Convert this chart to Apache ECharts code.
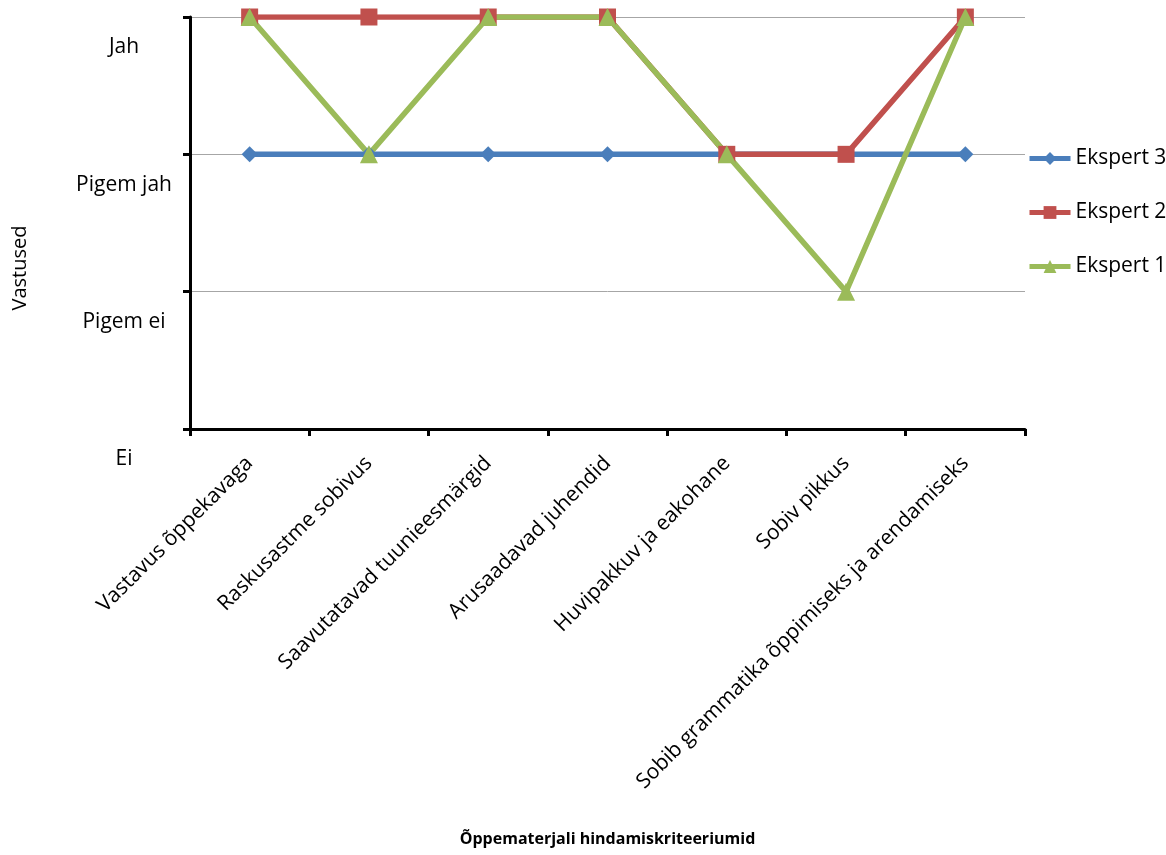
<!DOCTYPE html>
<html>
<head>
<meta charset="utf-8">
<script src="https://cdn.jsdelivr.net/npm/echarts@6/dist/echarts.min.js"></script>
<style>html,body{margin:0;padding:0;background:#fff}#c{width:1166px;height:855px}</style>
</head>
<body>
<div id="c"></div>
<script>
var categories = ['Vastavus õppekavaga', 'Raskusastme sobivus', 'Saavutatavad tuunieesmärgid', 'Arusaadavad juhendid', 'Huvipakkuv ja eakohane', 'Sobiv pikkus', 'Sobib grammatika õppimiseks ja arendamiseks'];
var yLabels = ['Ei', 'Pigem ei', 'Pigem jah', 'Jah'];
var ekspert3 = [2, 2, 2, 2, 2, 2, 2];
var ekspert2 = [3, 3, 3, 3, 2, 2, 3];
var ekspert1 = [3, 2, 3, 3, 2, 1, 3];

var font = 'Open Sans';
var chart = echarts.init(document.getElementById('c'));
chart.setOption({
  animation: false,
  textStyle: {fontFamily: font},
  grid: {left: 190, right: 141, top: 17, bottom: 426, containLabel: false},
  legend: {
    orient: 'vertical', left: 1022, top: 143, itemGap: 33, itemWidth: 41, itemHeight: 16,
    textStyle: {fontFamily: font, fontSize: 21, color: '#000'},
    lineStyle: {width: 5},
    data: ['Ekspert 3', 'Ekspert 2', 'Ekspert 1']
  },
  xAxis: {
    type: 'category', data: categories, boundaryGap: true,
    name: 'Õppematerjali hindamiskriteeriumid', nameLocation: 'middle', nameGap: 402,
    nameTextStyle: {fontFamily: font, fontSize: 16, fontWeight: 'bold', color: '#000'},
    axisLine: {lineStyle: {color: '#000', width: 3}},
    axisTick: {show: true, length: 7, lineStyle: {color: '#000', width: 3}, alignWithLabel: false},
    axisLabel: {rotate: 45, fontSize: 21, color: '#000', margin: 31, interval: 0}
  },
  yAxis: {
    type: 'value', min: 0, max: 3, interval: 1,
    name: 'Vastused', nameLocation: 'middle', nameGap: 160,
    nameTextStyle: {fontFamily: font, fontSize: 20, color: '#000', padding: [0, 90, 0, 0]},
    axisLine: {show: true, lineStyle: {color: '#000', width: 3}},
    axisTick: {show: true, length: 7, lineStyle: {color: '#000', width: 3}},
    splitLine: {show: true, lineStyle: {color: '#a6a6a6', width: 1}},
    axisLabel: {
      fontSize: 21, color: '#000', align: 'center', verticalAlign: 'top', margin: 66,
      padding: [20, 0, 0, 0],
      formatter: function (v) { return yLabels[v]; }
    }
  },
  series: [
    {name: 'Ekspert 3', type: 'line', data: ekspert3, symbol: 'diamond', symbolSize: 16,
     lineStyle: {color: '#4a7ebb', width: 5.5}, itemStyle: {color: '#4a7ebb'}},
    {name: 'Ekspert 2', type: 'line', data: ekspert2, symbol: 'rect', symbolSize: 17,
     lineStyle: {color: '#c0504d', width: 5.5}, itemStyle: {color: '#c0504d'}},
    {name: 'Ekspert 1', type: 'line', data: ekspert1, symbol: 'triangle', symbolSize: 18,
     lineStyle: {color: '#9bbb59', width: 5.5}, itemStyle: {color: '#9bbb59'}}
  ]
});
</script>
</body>
</html>
